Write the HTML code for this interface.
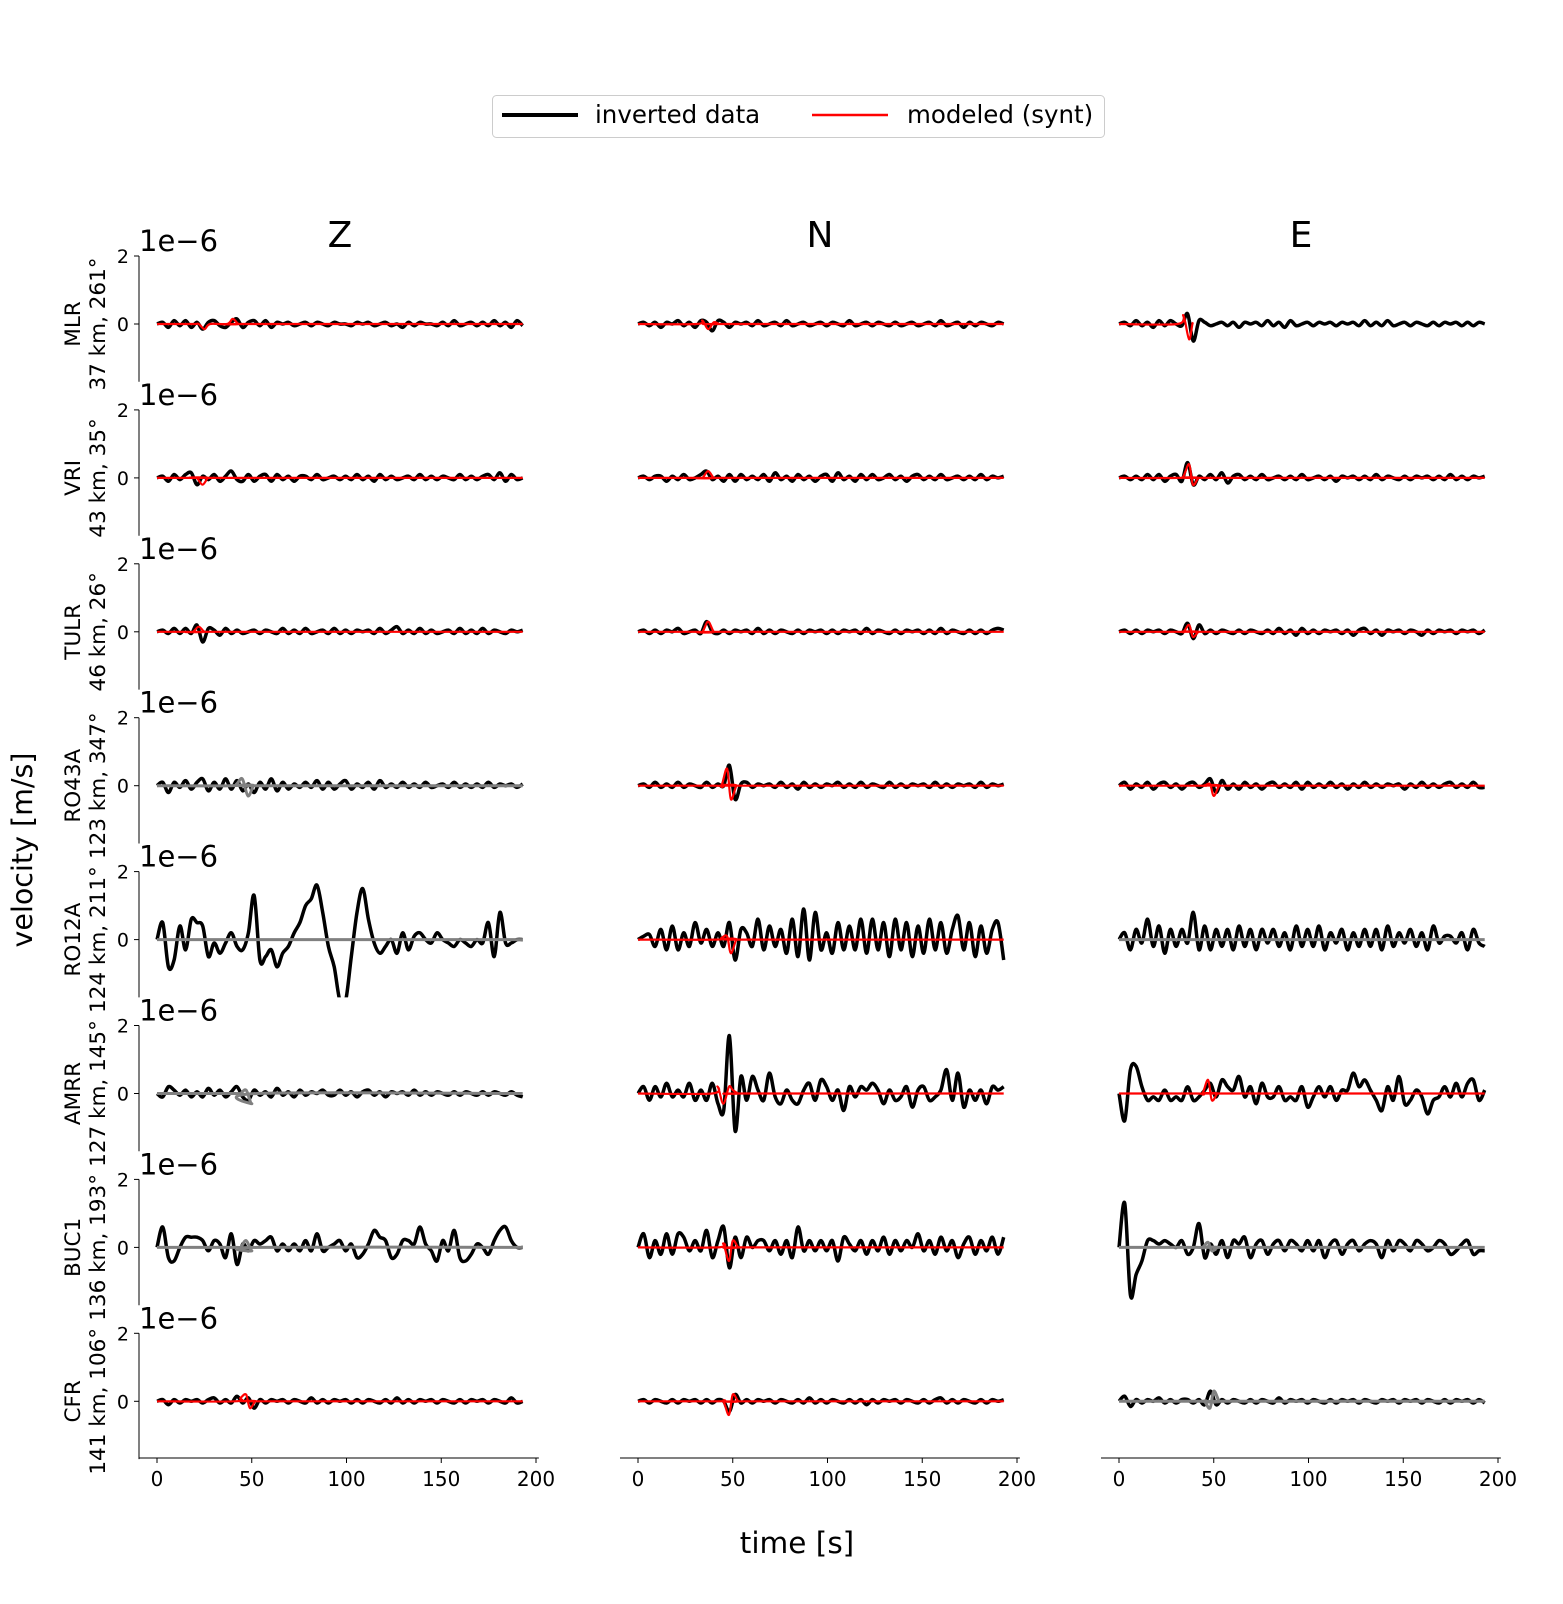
<!DOCTYPE html>
<html><head><meta charset="utf-8">
<style>
body{margin:0;background:#fff;}
svg{display:block;font-family:"DejaVu Sans","Liberation Sans",sans-serif;}
</style></head>
<body>
<svg id="chart" width="1563" height="1604" viewBox="0 0 1563 1604" xmlns="http://www.w3.org/2000/svg">
<g>
<rect x="492.5" y="95.5" width="612" height="42" rx="4" fill="#fff" stroke="#ccc"/>
<line x1="502" y1="115" x2="578" y2="115" stroke="#000" stroke-width="4"/>
<text x="595" y="123" font-size="24.5">inverted data</text>
<line x1="812" y1="115" x2="888" y2="115" stroke="#f00" stroke-width="2.5"/>
<text x="907" y="123" font-size="24.5">modeled (synt)</text>
</g>
<text x="340" y="247" font-size="36" text-anchor="middle">Z</text>
<text x="820" y="247" font-size="36" text-anchor="middle">N</text>
<text x="1301" y="247" font-size="36" text-anchor="middle">E</text>
<text transform="translate(32,850) rotate(-90)" font-size="28.5" text-anchor="middle">velocity [m/s]</text>
<text x="797" y="1553" font-size="29.5" text-anchor="middle">time [s]</text>
<g id="plots"></g>
</svg>
<script>
const stations = ["MLR","VRI","TULR","RO43A","RO12A","AMRR","BUC1","CFR"];
const stationInfo = ["37 km, 261°","43 km, 35°","46 km, 26°","123 km, 347°","124 km, 211°","127 km, 145°","136 km, 193°","141 km, 106°"];
const components = ["Z","N","E"];
const yTicks = [2,0];
const xTicks = [0,50,100,150,200];
const duration = 193;
// inverted data (units 1e-6 m/s), evenly sampled over 0..193 s
const dataMLR_Z=[0,.05,-.1,.1,-.05,.1,-.1,.05,-.15,.05,.1,-.05,-.1,.05,.15,-.1,.05,.1,-.05,.1,-.1,.05,0,.05,-.05,0,.05,-.05,.05,0,-.05,.05,0,0,-.05,.05,0,.05,-.05,0,.05,-.05,0,-.1,.05,-.05,.05,0,0,-.05,.05,-.05,.1,-.05,0,.05,-.05,.05,-.05,.1,-.05,.05,-.1,.1,-.05];
const dataMLR_N=[0,.05,-.05,.05,-.1,.05,0,.1,-.05,.05,-.1,.1,.05,-.2,.1,.05,-.1,.05,0,.05,-.05,.1,-.05,0,.05,-.05,.1,-.05,0,.05,-.05,0,.05,-.05,.05,0,-.05,.1,-.05,0,.05,-.05,.05,0,-.05,.05,-.05,0,.05,-.05,0,.05,-.05,.1,-.05,0,.05,-.1,.05,-.05,.05,0,-.05,.05,0];
const dataMLR_E=[0,.05,-.05,.1,-.05,.05,-.1,.1,-.05,.1,0,-.05,.3,-.5,.1,.05,-.05,0,.05,-.05,.05,-.1,.05,0,.05,-.05,.1,-.05,.05,-.1,.1,-.05,0,.05,-.05,.05,0,.05,-.05,.05,0,.05,-.05,.1,-.05,.05,-.05,.1,-.05,0,.05,-.05,.05,0,-.05,.05,-.05,.05,0,.05,-.05,.05,-.05,.05,0];
const dataVRI_Z=[0,.05,-.1,.1,-.05,.1,.15,-.2,.05,-.05,.1,-.1,.05,.2,-.05,-.1,.1,-.1,.05,.1,-.1,.1,-.05,.05,-.1,.05,.05,-.05,.1,-.05,0,.05,-.05,.05,-.05,.1,-.05,.05,-.1,.1,-.05,.05,-.05,0,.05,-.05,.1,-.05,.05,-.05,.05,0,-.05,.1,-.05,.05,-.05,.05,.1,-.05,.15,-.1,.1,-.05,0];
const dataVRI_N=[0,.05,-.05,.05,.05,-.1,.05,-.05,.1,-.05,0,.1,.2,-.05,.05,-.1,.1,-.1,.1,-.05,.05,-.05,.1,-.1,.15,-.05,.05,-.1,.1,-.05,.05,-.1,.05,.1,-.1,.15,-.05,.05,-.1,.1,-.05,.1,-.05,0,.1,-.05,.05,-.1,.05,.1,-.05,.05,-.05,.1,-.05,0,.05,-.05,.05,-.05,.1,-.05,.05,0,.05];
const dataVRI_E=[0,.05,-.05,.05,-.05,.1,-.05,.1,-.1,.05,.1,-.1,.45,-.2,.05,-.05,.1,-.05,.15,-.15,.05,.1,-.05,.05,-.05,.1,-.05,0,.05,-.05,.05,-.05,.1,-.05,0,.05,-.05,.05,-.1,.05,0,.05,-.05,.05,-.05,.1,-.05,.05,0,-.05,.05,-.05,.05,0,.05,-.05,.05,-.05,.1,-.05,.05,-.05,.05,0,.05];
const dataTULR_Z=[0,.05,-.05,.1,-.05,.1,-.05,.2,-.3,.1,.05,-.1,.1,-.05,.05,-.05,0,.05,-.05,.05,0,-.05,.1,-.05,.05,-.05,.1,-.05,0,.05,-.05,.1,-.05,.05,-.05,.05,0,.05,-.05,.1,-.05,.05,.15,-.05,.05,-.05,.1,-.05,.05,-.05,0,.05,-.05,.1,-.05,.05,-.05,.1,-.05,.05,0,-.05,.05,0,.05];
const dataTULR_N=[0,.05,-.05,.05,-.05,.05,0,.1,-.05,0,.05,-.05,.3,0,-.05,.05,-.05,.05,0,.05,-.05,.1,-.05,.05,-.05,.05,0,-.05,.05,-.05,.05,0,.05,-.05,.05,-.05,.05,0,.05,-.05,.1,-.05,.05,0,-.05,.05,-.05,.05,0,.05,-.05,.05,-.05,.1,-.05,.05,0,-.05,.05,-.05,.05,-.05,.05,.1,.05];
const dataTULR_E=[0,.05,-.05,.05,-.05,.05,0,.05,-.05,.05,0,-.05,.25,-.2,.2,-.05,.05,-.05,.05,0,-.05,.05,-.05,.05,0,-.05,.05,-.05,.1,-.05,.05,-.1,.1,-.05,.05,-.05,.05,0,.05,-.05,.05,-.1,.05,.1,-.05,.05,-.1,.05,0,.05,-.05,.05,0,-.1,.05,-.05,.05,0,.05,-.05,.05,0,.05,-.05,.05];
const dataRO43A_Z=[0,.1,-.2,.1,-.05,.15,-.1,.1,.2,-.15,.1,-.1,.2,-.1,.15,-.15,.05,-.2,.1,-.1,.2,-.15,.1,-.1,.05,-.05,.1,-.05,.15,-.1,.1,-.1,.05,.15,-.1,.05,-.05,.1,-.1,.15,-.05,.05,-.05,.1,-.05,.05,-.05,.1,-.05,0,.05,-.05,.1,-.05,.05,-.05,.05,-.05,.1,-.05,.05,0,.05,-.05,.05];
const dataRO43A_N=[0,.05,-.05,.1,-.05,.05,-.05,.1,-.05,.05,0,-.05,.1,-.05,.05,0,.6,-.4,.05,.1,-.05,.05,0,.05,-.05,.1,-.05,.05,-.1,.1,-.05,.05,-.05,.05,0,.1,-.05,.05,-.05,.1,-.05,.05,0,-.05,.1,-.05,.05,-.05,.05,0,.05,-.05,.1,-.05,.05,-.05,.05,0,.05,-.05,.1,-.05,.05,0,.05];
const dataRO43A_E=[0,.1,-.1,.05,-.05,.1,-.1,.05,.1,-.05,.05,-.1,.05,.1,-.05,.05,.2,-.2,.15,-.1,.05,-.1,.1,-.05,.05,-.1,.05,.1,-.05,.05,-.05,.1,-.1,.1,-.05,.05,-.05,.1,-.05,.05,-.1,.05,-.05,.1,-.05,.05,-.05,.05,0,.05,-.1,.05,-.05,.1,-.05,.05,-.05,.05,.1,-.05,.05,-.05,.1,-.05,-.05];
const dataRO12A_Z=[0,.5,-.8,-.6,.4,-.3,.6,.5,.4,-.5,-.1,-.4,-.1,.2,-.2,-.3,.2,1.3,-.6,-.5,-.3,-.8,-.4,-.2,.2,.5,1,1.2,1.6,.8,-.2,-.8,-1.8,-1.8,-.5,.8,1.5,.6,-.1,-.4,-.2,0,-.4,.2,-.3,.1,.2,0,-.1,.2,0,-.1,-.2,0,-.1,-.2,0,-.1,.5,-.5,.8,-.1,-.1,0,0];
const dataRO12A_N=[0,.1,.15,-.2,.3,-.3,.4,-.3,.2,-.2,.5,-.1,.3,-.2,.2,-.2,.5,-.6,.3,.2,-.2,.6,-.3,.4,-.2,.3,-.4,.6,-.5,.9,-.6,.8,-.3,.2,-.4,.5,-.3,.4,-.3,.6,-.4,.6,-.3,.5,-.5,.6,-.3,.5,-.5,.4,-.4,.6,-.3,.5,-.4,.3,.7,-.3,.5,-.5,.4,-.4,.3,.5,-.6];
const dataRO12A_E=[0,.2,-.3,.3,-.1,.6,-.2,.4,-.4,.3,-.2,.3,-.1,.8,-.3,.4,-.3,.3,-.2,.3,-.3,.4,-.2,.3,-.3,.3,-.1,.3,-.2,.2,-.3,.4,-.2,.3,-.2,.4,-.3,.2,-.1,.3,-.3,.2,-.2,.3,-.2,.3,-.3,.4,-.2,.2,-.1,.3,-.2,.2,-.3,.4,-.1,.1,.1,-.1,.2,-.3,.3,-.1,-.2];
const dataAMRR_Z=[0,-.1,.2,.1,-.05,.1,-.1,.05,-.1,.15,-.05,.1,-.1,.05,.2,-.1,-.2,.1,-.05,.05,-.1,.15,-.05,.05,-.1,.1,-.05,.05,0,.1,-.05,-.05,.1,-.05,.05,-.1,.05,.1,-.05,.05,-.1,.05,0,.05,-.05,.1,-.05,.05,-.05,.05,0,-.05,.05,-.05,.05,0,-.05,.05,-.05,.05,0,-.05,.05,-.05,-.1];
const dataAMRR_N=[0,.2,-.2,.2,-.1,.3,-.1,.1,-.1,.3,-.2,.1,-.2,.3,-.3,-.5,1.7,-1.1,.5,-.2,.5,.1,-.2,.6,-.1,-.3,.1,-.2,-.3,.1,.3,-.2,.4,.2,-.2,.1,-.5,.2,-.1,.2,.1,.3,.1,-.3,.1,-.2,-.1,.2,-.4,.1,.2,-.2,-.1,.1,.7,-.2,.6,-.4,.1,-.2,.1,-.3,.2,.1,.2];
const dataAMRR_E=[0,-.8,.7,.8,.2,-.2,-.1,-.2,.1,-.2,-.1,-.2,.2,-.2,-.1,.1,.3,-.1,.4,.2,.1,.5,-.1,.2,-.3,.3,-.1,-.1,.2,-.2,-.1,-.2,.2,-.4,-.1,.2,-.1,.2,-.2,.1,.1,.6,.2,.4,.1,-.2,-.5,.2,-.2,.5,-.3,-.2,.1,-.1,-.6,-.2,-.1,.2,-.1,.3,-.1,.3,.4,-.2,.1];
const dataBUC1_Z=[0,.6,-.3,-.4,0,.3,.3,.3,.2,-.1,.2,.1,-.3,.4,-.5,.1,-.1,.2,.1,.2,.3,-.1,.1,-.1,.1,-.1,.2,-.1,.4,-.1,0,.1,.2,-.1,.1,-.3,-.2,.1,.5,.3,.2,-.3,-.2,.2,.2,.1,.6,.1,-.1,-.4,.2,-.1,.5,-.3,-.4,-.2,.1,0,-.2,.2,.5,.6,.2,0,0];
const dataBUC1_N=[0,.4,-.3,.2,-.2,.4,-.2,.4,.3,-.1,.2,-.1,.5,-.3,.2,.6,-.6,.3,-.3,.3,0,.2,.2,-.1,.2,-.2,.2,-.3,.6,-.1,.2,-.1,.2,-.1,.2,-.4,.3,.1,-.1,.2,-.2,.2,-.1,.3,-.2,.2,-.1,.2,0,.4,-.1,.2,-.2,.3,-.1,.2,-.3,.1,.3,-.2,.2,-.1,.3,-.2,.3];
const dataBUC1_E=[0,1.3,-1.4,-.8,-.4,.2,.2,.1,.2,.1,0,.2,-.2,0,.7,-.3,.1,-.2,.2,-.3,.2,.1,.3,-.3,.1,.2,-.2,.1,.2,-.1,.2,.1,-.1,.2,-.1,.2,-.3,.1,.2,-.2,.1,.2,-.1,.1,.2,.1,-.3,.2,-.1,.2,.1,-.1,.2,.1,-.1,0,.2,.1,-.2,-.1,.1,.2,-.2,-.1,-.1];
const dataCFR_Z=[0,.05,-.1,.05,-.05,.05,0,.05,-.05,.05,.1,-.05,.05,-.05,.15,-.05,.1,-.2,.05,-.05,.05,0,.05,-.05,.05,0,-.05,.1,-.05,.05,-.05,.05,0,.05,-.05,.05,-.05,.05,0,-.05,.05,-.05,.1,-.05,.05,-.05,.05,0,.05,-.05,.05,0,-.05,.05,-.05,.05,0,.05,-.05,.05,0,-.05,.1,-.05,0];
const dataCFR_N=[0,.05,-.05,.05,0,-.05,.05,-.05,.05,0,.05,-.05,.05,-.05,.05,0,-.3,.2,-.05,.05,-.05,.05,0,.05,-.05,.05,0,-.05,.05,-.05,.1,-.05,.05,-.05,.05,0,-.05,.05,-.05,.05,-.1,.05,-.05,.05,0,.05,-.05,.05,0,-.05,.05,-.05,.05,.1,-.05,.05,-.05,.05,0,-.05,.05,-.05,.05,0,.05];
const dataCFR_E=[0,.15,-.15,.05,-.05,.05,0,.1,-.05,.05,-.05,.05,.05,-.05,.05,-.1,.3,-.1,.05,-.05,.05,0,-.05,.05,-.05,.05,0,-.05,.1,-.05,.05,0,.05,-.05,.05,0,-.05,.05,-.05,.05,0,.05,-.05,.05,0,-.05,.05,0,.05,-.05,.05,0,.05,-.05,.05,0,-.05,.05,-.05,.05,0,.05,-.05,.05,-.05];
const dataSeries=[[dataMLR_Z,dataMLR_N,dataMLR_E],[dataVRI_Z,dataVRI_N,dataVRI_E],[dataTULR_Z,dataTULR_N,dataTULR_E],[dataRO43A_Z,dataRO43A_N,dataRO43A_E],[dataRO12A_Z,dataRO12A_N,dataRO12A_E],[dataAMRR_Z,dataAMRR_N,dataAMRR_E],[dataBUC1_Z,dataBUC1_N,dataBUC1_E],[dataCFR_Z,dataCFR_N,dataCFR_E]];
// synthetic pulses: [time s, value]; zero elsewhere
const syntTimes=[
 [[22,25,28,37,40,43],[34,37,40,43],[34,37,39,41,44]],
 [[21,24,27],[34,37,40],[34,37,39,42]],
 [[19,22,25],[34,37,40],[34,37,39,42]],
 [[42,45,48,51],[44,47,49,52],[45,48,50,53]],
 [[45,48,51],[44,47,49,52],[45,48,51]],
 [[44,47,50],[42,45,48,50,53],[44,47,49,52]],
 [[44,47,50],[45,48,50,53],[44,47,49,52]],
 [[44,47,49,52],[45,48,50,53],[45,48,50,53]]];
const syntValues=[
 [[0,-.15,0,0,.15,0],[.1,-.15,.05,0],[.25,-.45,.05,0]],
 [[0,-.2,0],[0,.2,0],[.05,.4,-.2,0]],
 [[0,.15,0],[0,.3,0],[0,.2,-.15,0]],
 [[.05,.2,-.3,0],[0,.5,-.4,0],[0,.05,-.3,0]],
 [[0,0,0],[.05,.1,-.4,0],[0,0,0]],
 [[0,.1,-.3],[.2,-.3,.2,.1,0],[0,.4,-.2,0]],
 [[0,.2,-.1],[.1,-.4,.2,0],[0,.15,-.1,0]],
 [[.1,.2,-.2,0],[0,-.4,.2,0],[0,-.2,.3,0]]];
// gray = synthetic of components not used in inversion
const syntGray=[[0,0,0],[0,0,0],[0,0,0],[1,0,0],[1,0,1],[1,0,0],[1,0,1],[0,0,1]];

const NS='http://www.w3.org/2000/svg';
const colX0=[157,638,1119], sx=1.895, sy=34, row0=324, rowH=153.9;
const xS=(c,t)=>colX0[c]+t*sx;
const yS=(r,v)=>row0+r*rowH-v*sy;
const root=document.getElementById('plots');
function mk(tag,attrs,parent){const e=document.createElementNS(NS,tag);for(const k in attrs)e.setAttribute(k,attrs[k]);(parent||root).appendChild(e);return e;}
function smoothPath(pts){let d='M'+pts[0][0].toFixed(1)+','+pts[0][1].toFixed(1);
 for(let i=0;i<pts.length-1;i++){const p0=pts[Math.max(0,i-1)],p1=pts[i],p2=pts[i+1],p3=pts[Math.min(pts.length-1,i+2)];
  d+='C'+(p1[0]+(p2[0]-p0[0])/6).toFixed(1)+','+(p1[1]+(p2[1]-p0[1])/6).toFixed(1)+' '+(p2[0]-(p3[0]-p1[0])/6).toFixed(1)+','+(p2[1]-(p3[1]-p1[1])/6).toFixed(1)+' '+p2[0].toFixed(1)+','+p2[1].toFixed(1);}
 return d;}
const clipTop=r=>yS(r,2), clipBot=r=>yS(r,-1.7);
for(let r=0;r<stations.length;r++){
 const cp=mk('clipPath',{id:'clip'+r});
 mk('rect',{x:0,y:clipTop(r)-20,width:1563,height:clipBot(r)-clipTop(r)+20},cp);
 const ax=mk('g',{});
 
 
 mk('line',{x1:139,x2:139,y1:yS(r,2),y2:yS(r,-1.7),stroke:'#000','stroke-width':1},ax);
 yTicks.forEach(v=>{mk('line',{x1:134,x2:139,y1:yS(r,v),y2:yS(r,v),stroke:'#000'},ax);
  const t=mk('text',{x:129,y:yS(r,v)+7,'font-size':19,'text-anchor':'end'},ax);t.textContent=v;});
 const off=mk('text',{x:139,y:yS(r,2)-5,'font-size':29},ax);off.textContent='1e\u22126';
 const lab=mk('text',{transform:'translate(0,'+yS(r,0)+') rotate(-90)','font-size':21.5,'text-anchor':'middle'},ax);
 
 
 const t1=mk('tspan',{x:0,y:80},lab);t1.textContent=stations[r];
 const t2=mk('tspan',{x:0,y:105},lab);t2.textContent=stationInfo[r];
 for(let c=0;c<3;c++){
  const g=mk('g',{'clip-path':'url(#clip'+r+')'});
  
  
  const d=dataSeries[r][c], n=d.length;
  const pts=d.map((v,i)=>[xS(c,i*duration/(n-1)),yS(r,v)]);
  const p=mk('path',{d:smoothPath(pts),fill:'none',stroke:'#000','stroke-width':3.5,'stroke-linejoin':'round'},g);
  
  
  const st=syntTimes[r][c], sv=syntValues[r][c];
  const sp=[[0,0],[st[0]-3,0]];
  st.forEach((t,i)=>sp.push([t,sv[i]]));
  sp.push([st[st.length-1]+3,0],[duration,0]);
  const spx=sp.map(q=>[xS(c,q[0]),yS(r,q[1])]);
  const s=mk('path',{d:smoothPath(spx),fill:'none',stroke:syntGray[r][c]?'#808080':'#f00','stroke-width':syntGray[r][c]?3:2.2},g);
  
  
 }
}
for(let c=0;c<3;c++){
 const g=mk('g',{});
 
 
 mk('line',{x1:xS(c,-9.5),x2:xS(c,201.5),y1:1458,y2:1458,stroke:'#000'},g);
 xTicks.forEach(t=>{mk('line',{x1:xS(c,t),x2:xS(c,t),y1:1458,y2:1463,stroke:'#000'},g);
  const tx=mk('text',{x:xS(c,t),y:1486,'font-size':20,'text-anchor':'middle'},g);tx.textContent=t;});
}
</script>
</body></html>
